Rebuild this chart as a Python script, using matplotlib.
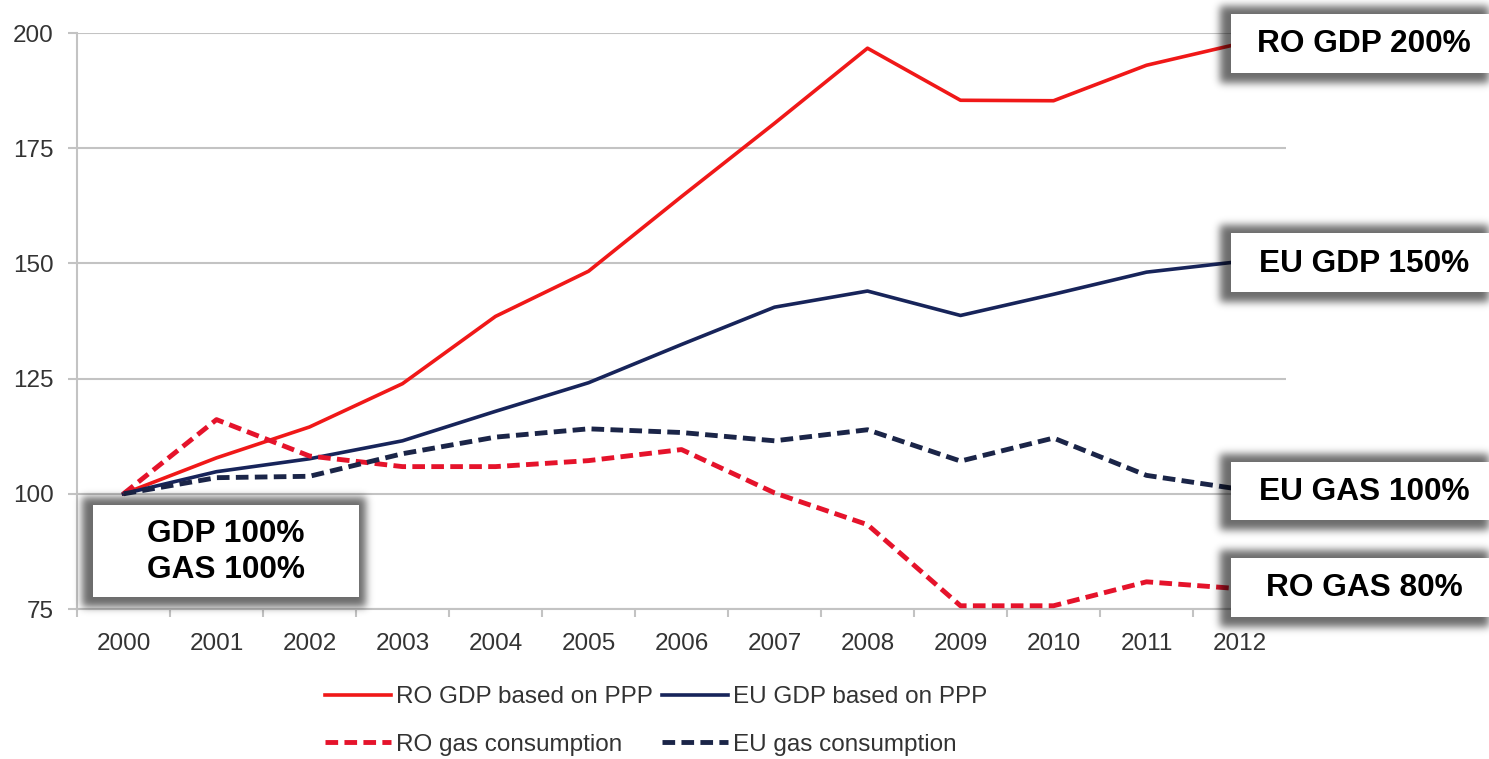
import numpy as np
import matplotlib
matplotlib.use("Agg")
import matplotlib.pyplot as plt
from matplotlib.patches import Rectangle
from matplotlib.ticker import FixedLocator

# ---- data (index, 2000 = 100) ----
years = [str(y) for y in range(2000, 2013)]
ro_gdp = [100, 107.8, 114.5, 123.9, 138.5, 148.3, 164.5, 180.4, 196.7, 185.4, 185.3, 193.0, 197.7]
eu_gdp = [100, 104.8, 107.6, 111.5, 117.9, 124.1, 132.4, 140.5, 144.0, 138.7, 143.3, 148.1, 150.4]
ro_gas = [100, 116.1, 108.2, 105.9, 105.9, 107.2, 109.6, 100.2, 93.3, 75.7, 75.7, 80.9, 79.4]
eu_gas = [100, 103.5, 103.8, 108.7, 112.3, 114.1, 113.3, 111.5, 113.9, 107.1, 112.1, 104.0, 101.0]

series_labels = ["RO GDP based on PPP", "EU GDP based on PPP",
                 "RO gas consumption", "EU gas consumption"]
callouts = ["RO GDP 200%", "EU GDP 150%", "EU GAS 100%", "RO GAS 80%"]
start_callout = "GDP 100%\nGAS 100%"
y_ticks = [75, 100, 125, 150, 175, 200]

RED = "#f01818"
RED_D = "#e5132b"
NAVY = "#17245a"
NAVY_D = "#1b2548"
GRID = "#c3c3c3"
TXT = "#333333"

W, H = 1489, 759
fig = plt.figure(figsize=(W / 100, H / 100), dpi=100)
fig.patch.set_facecolor("white")

ax = fig.add_axes([77 / W, 1 - 609 / H, (1286 - 77) / W, (609 - 33) / H])
x = np.arange(len(years))

l1, = ax.plot(x, ro_gdp, color=RED, lw=2.6, solid_joinstyle="round", zorder=3)
l2, = ax.plot(x, eu_gdp, color=NAVY, lw=2.6, solid_joinstyle="round", zorder=3)
l3, = ax.plot(x, ro_gas, color=RED_D, lw=3.5, dashes=(2.6, 1.3),
              dash_capstyle="butt", zorder=3)
l4, = ax.plot(x, eu_gas, color=NAVY_D, lw=3.5, dashes=(2.6, 1.3),
              dash_capstyle="butt", zorder=3)

ax.set_xlim(-0.5, len(years) - 0.5)
ax.set_ylim(75, 200)
ax.set_yticks(y_ticks)
ax.set_xticks(x)
ax.set_xticklabels(years)
ax.xaxis.set_minor_locator(FixedLocator(np.arange(-0.5, len(years), 1.0)))

for s in ("top", "right"):
    ax.spines[s].set_visible(False)
for s in ("left", "bottom"):
    ax.spines[s].set_color(GRID)
    ax.spines[s].set_linewidth(1.5)

ax.set_axisbelow(True)
ax.yaxis.grid(True, color=GRID, lw=1.5)

fs = 17.5
ax.tick_params(axis="y", which="major", length=6.5, width=1.5, color=GRID,
               pad=10.5, labelsize=fs, labelcolor=TXT)
ax.tick_params(axis="x", which="major", length=0, pad=17, labelsize=fs,
               labelcolor=TXT)
ax.tick_params(axis="x", which="minor", length=6, width=1.5, color=GRID)
for lab in ax.get_xticklabels() + ax.get_yticklabels():
    lab.set_fontfamily("Liberation Sans")

leg = fig.legend([l1, l3, l2, l4],
                 [series_labels[0], series_labels[2], series_labels[1], series_labels[3]],
                 ncol=2, loc="center", bbox_to_anchor=(656 / W, 1 - 721 / H),
                 frameon=False, prop={"family": "Liberation Sans", "size": fs},
                 handlelength=2.7, handletextpad=0.2, columnspacing=0.4,
                 labelspacing=1.05)
for t in leg.get_texts():
    t.set_color(TXT)

# ---- call-out boxes with soft drop shadows (pixel coordinates) ----
ov = fig.add_axes([0, 0, 1, 1], zorder=10)
ov.set_xlim(0, W)
ov.set_ylim(H, 0)
ov.axis("off")
ov.patch.set_alpha(0)

boxes = [
    (93, 505, 359, 597, start_callout),
    (1231, 14, 1497, 73, callouts[0]),
    (1231, 233, 1497, 292, callouts[1]),
    (1231, 462, 1497, 520, callouts[2]),
    (1231, 558, 1497, 617, callouts[3]),
]


def gauss_blur(a, sigma):
    r = int(3 * sigma)
    k = np.exp(-0.5 * (np.arange(-r, r + 1) / sigma) ** 2)
    k /= k.sum()
    a = np.apply_along_axis(lambda m: np.convolve(m, k, mode="same"), 0, a)
    a = np.apply_along_axis(lambda m: np.convolve(m, k, mode="same"), 1, a)
    return a


mask = np.zeros((H, W))
ext, dx, dy = 9, -2, 1
for x0, y0, x1, y1, _ in boxes:
    mask[max(y0 - ext + dy, 0):min(y1 + ext + dy, H),
         max(x0 - ext + dx, 0):min(x1 + ext + dx, W)] = 1.0
mask = gauss_blur(mask, 4.0)
shadow = np.zeros((H, W, 4))
shadow[..., 3] = np.clip(mask, 0, 1) * 0.58
ov.imshow(shadow, extent=(0, W, H, 0), origin="upper", aspect="auto",
          interpolation="bilinear", zorder=1)

for x0, y0, x1, y1, txt in boxes:
    ov.add_patch(Rectangle((x0, y0), x1 - x0, y1 - y0, facecolor="white",
                           edgecolor="none", zorder=2))
    ov.text((x0 + x1) / 2 if x1 < W else 1364, (y0 + y1) / 2 + 1, txt,
            ha="center", va="center", fontsize=22.8, fontweight="bold",
            family="Liberation Sans", color="black", linespacing=1.3,
            zorder=3)

fig.savefig("out.png", dpi=100, facecolor="white")
